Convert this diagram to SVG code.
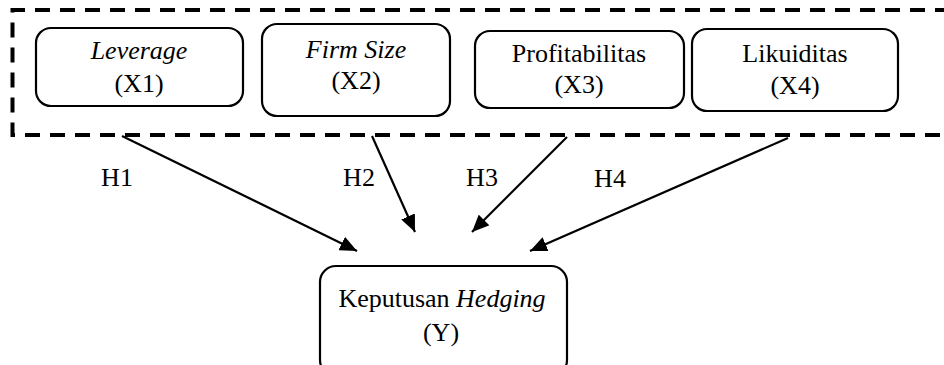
<svg xmlns="http://www.w3.org/2000/svg" width="944" height="365" viewBox="0 0 944 365">
<style>
.box{fill:#fff;stroke:#000;stroke-width:2.2}
.t{font-family:'Liberation Serif','Times New Roman',serif;font-size:26px;fill:#000;text-anchor:middle}
.i{font-style:italic}
.frame{fill:none;stroke:#000;stroke-width:4;stroke-dasharray:15 10}
.conn{stroke:#000;stroke-width:2.2;fill:none;marker-end:url(#ah)}
</style>
<defs>
<marker id="ah" markerUnits="userSpaceOnUse" markerWidth="19" markerHeight="15" refX="17" refY="7.5" orient="auto">
<path d="M0,0 L17,7.5 L0,15 Z" fill="#000"/>
</marker>
</defs>
<rect width="944" height="365" fill="#fff"/>
<g id="frame">
<path class="frame" d="M950,10 H12.5 V135 H950"/>
</g>
<g id="x1">
<rect class="box" x="36" y="28" width="207" height="78" rx="15"/>
<text class="t i" x="139" y="59">Leverage</text>
<text class="t" x="139" y="92">(X1)</text>
</g>
<g id="x2">
<rect class="box" x="262" y="24" width="188" height="92" rx="15"/>
<text class="t i" x="356" y="58">Firm Size</text>
<text class="t" x="356" y="89">(X2)</text>
</g>
<g id="x3">
<rect class="box" x="475" y="31" width="209" height="77" rx="15"/>
<text class="t" x="579" y="62">Profitabilitas</text>
<text class="t" x="579" y="93">(X3)</text>
</g>
<g id="x4">
<rect class="box" x="692" y="29" width="206" height="82" rx="15"/>
<text class="t" x="795" y="62">Likuiditas</text>
<text class="t" x="795" y="94">(X4)</text>
</g>
<g id="y">
<rect class="box" x="320" y="266" width="247" height="110" rx="16"/>
<text class="t" x="442" y="307">Keputusan <tspan class="i">Hedging</tspan></text>
<text class="t" x="441" y="341">(Y)</text>
</g>
<g id="connectors">
<line class="conn" x1="122" y1="136" x2="357" y2="251"/>
<line class="conn" x1="372" y1="136" x2="415" y2="232"/>
<line class="conn" x1="567" y1="137" x2="472" y2="232"/>
<line class="conn" x1="788" y1="138" x2="530" y2="251"/>
</g>
<g id="labels">
<text class="t" x="117" y="186">H1</text>
<text class="t" x="359" y="186">H2</text>
<text class="t" x="482" y="186">H3</text>
<text class="t" x="610" y="187">H4</text>
</g>
</svg>
